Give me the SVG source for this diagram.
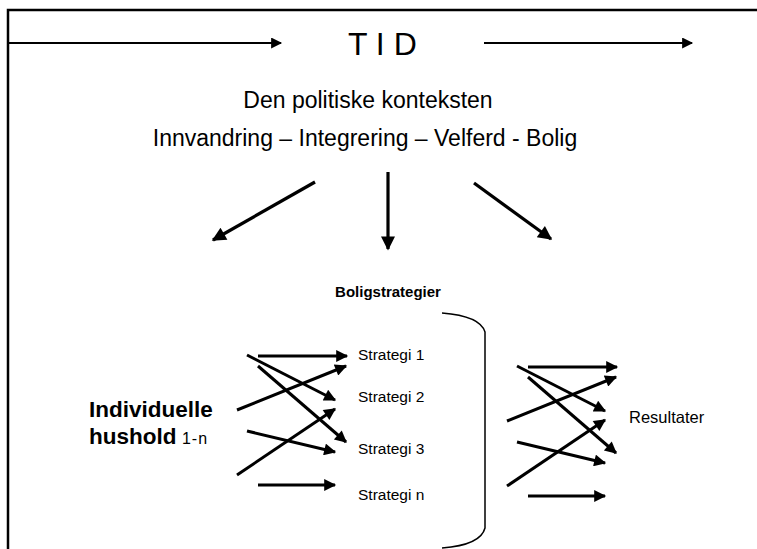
<svg xmlns="http://www.w3.org/2000/svg" width="757" height="549" viewBox="0 0 757 549">
  <style>
    .txt { font-family: "Liberation Sans", Arial, sans-serif; fill: #000; }
    .frame { fill: none; stroke: #000; stroke-width: 2.5; }
    .line { fill: none; stroke: #000; }
    .time { stroke-width: 2; marker-end: url(#headS); }
    .big { stroke-width: 3.2; marker-end: url(#headL); }
    .small { stroke-width: 3; marker-end: url(#headM); }
    .brace { fill: none; stroke: #000; stroke-width: 1.5; }
  </style>
  <defs>
    <marker id="headS" viewBox="0 0 10 10" refX="9" refY="5" markerUnits="userSpaceOnUse" markerWidth="13" markerHeight="11" orient="auto">
      <path d="M0,0 L10,5 L0,10 z" fill="#000"/>
    </marker>
    <marker id="headM" viewBox="0 0 10 10" refX="9" refY="5" markerUnits="userSpaceOnUse" markerWidth="14" markerHeight="12" orient="auto">
      <path d="M0,0 L10,5 L0,10 z" fill="#000"/>
    </marker>
    <marker id="headL" viewBox="0 0 10 10" refX="9" refY="5" markerUnits="userSpaceOnUse" markerWidth="17" markerHeight="14" orient="auto">
      <path d="M0,0 L10,5 L0,10 z" fill="#000"/>
    </marker>
  </defs>

  <rect width="757" height="549" fill="#fff"/>

  <!-- open frame: top and left edges only -->
  <path class="frame" d="M8,549 V10 H757"/>

  <!-- time axis label -->
  <g id="time">
    <text class="txt" x="348" y="55" font-size="32">T I D</text>
  </g>

  <g id="context">
    <text class="txt" x="368" y="108" font-size="23" text-anchor="middle">Den politiske konteksten</text>
    <text class="txt" x="365" y="146" font-size="23" text-anchor="middle">Innvandring – Integrering – Velferd - Bolig</text>
  </g>

  <g id="strategies-title">
    <text class="txt" x="388" y="297" font-size="15" font-weight="bold" text-anchor="middle">Boligstrategier</text>
  </g>

  <g id="households">
    <text class="txt" x="89" y="417" font-size="22.5" font-weight="bold">Individuelle</text>
    <text class="txt" x="89" y="444" font-size="22.5" font-weight="bold">hushold<tspan font-size="16" font-weight="normal" letter-spacing="1"> 1-n</tspan></text>
  </g>

  <g id="strategy-list">
    <text class="txt" x="358" y="360" font-size="15.5">Strategi 1</text>
    <text class="txt" x="358" y="402" font-size="15.5">Strategi 2</text>
    <text class="txt" x="358" y="454" font-size="15.5">Strategi 3</text>
    <text class="txt" x="358" y="500" font-size="15.5">Strategi n</text>
  </g>

  <g id="strategy-brace">
    <path class="brace" d="M442,313 C468,315 482,322 485,332 V528 C482,540 468,546 442,548"/>
  </g>

  <g id="results">
    <text class="txt" x="629" y="423" font-size="16.5">Resultater</text>
  </g>

  <g id="connectors">
    <!-- time arrows -->
    <line class="line time" x1="8" y1="43" x2="281" y2="43"/>
    <line class="line time" x1="484" y1="43" x2="692" y2="43"/>

    <!-- context fans out -->
    <line class="line big" x1="315" y1="182" x2="213" y2="240"/>
    <line class="line big" x1="388" y1="172" x2="388" y2="249"/>
    <line class="line big" x1="474" y1="183" x2="551" y2="239"/>

    <!-- households to strategies -->
    <g id="household-links">
      <line class="line small" x1="258" y1="356" x2="347" y2="356"/>
      <line class="line small" x1="247" y1="355" x2="335" y2="400"/>
      <line class="line small" x1="258" y1="366" x2="346" y2="442"/>
      <line class="line small" x1="237" y1="410" x2="346" y2="366"/>
      <line class="line small" x1="247" y1="431" x2="335" y2="452"/>
      <line class="line small" x1="237" y1="475" x2="335" y2="409"/>
      <line class="line small" x1="258" y1="485" x2="335" y2="485"/>
    </g>

    <!-- strategies to results -->
    <g id="result-links" transform="translate(270,11)">
      <line class="line small" x1="258" y1="356" x2="347" y2="356"/>
      <line class="line small" x1="247" y1="355" x2="335" y2="400"/>
      <line class="line small" x1="258" y1="366" x2="346" y2="442"/>
      <line class="line small" x1="237" y1="410" x2="346" y2="366"/>
      <line class="line small" x1="247" y1="431" x2="335" y2="452"/>
      <line class="line small" x1="237" y1="475" x2="335" y2="409"/>
      <line class="line small" x1="258" y1="485" x2="335" y2="485"/>
    </g>
  </g>
</svg>
